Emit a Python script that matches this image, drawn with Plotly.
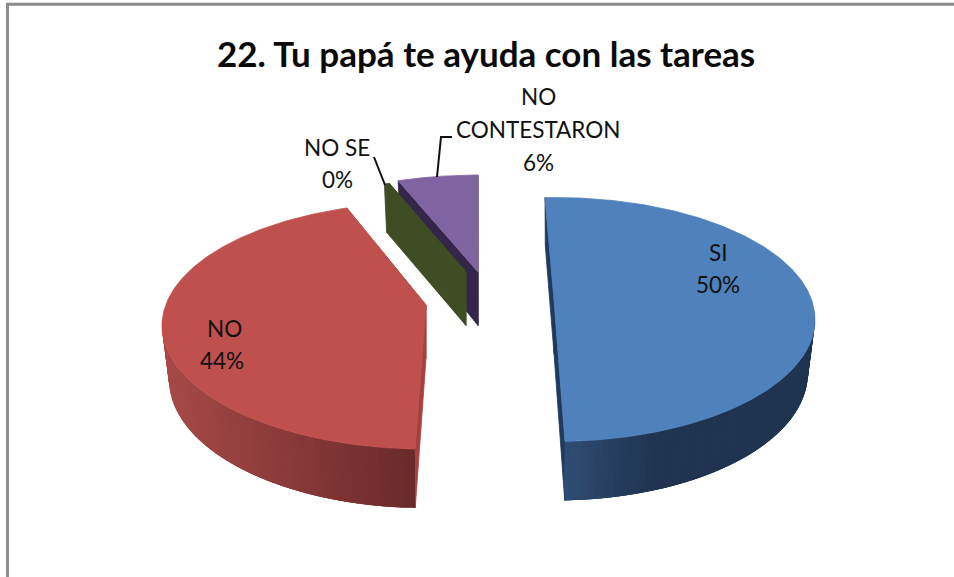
import math
import plotly.graph_objects as go

# ---- data ----
categories = ["SI", "NO", "NO SE", "NO CONTESTARON"]
values = [50, 44, 0.3, 5.7]
pct_labels = ["50%", "44%", "0%", "6%"]
title_text = "22. Tu papá te ayuda con las tareas"

# ---- per-slice view geometry (exploded 3D pie seen in perspective) ----
CENTRE_X = [555, 426, 466, 478]
CENTRE_Y = [319.5, 325.7, 301, 298]
APEX_X = [554, 426, 466, 478]
APEX_Y = [300, 305, 272, 272]
RX = [260, 264, 264, 264]
RY = [122, 123.4, 123, 123]
START_DEG = [92.2, -92.4, 108.0, 107.6]
SPAN_SCALE = [1.0, 1.011, 1.0, 0.857]
TOP_COL = ["#4f81bd", "#c0504d", "#404c23", "#8064a2"]
CUT_COL = ["#1f3a5c", "#a5423f", "#404c23", "#33264a"]
# rim shade stops: (x fraction along the visible rim, colour)
RIM_STOPS = [
    [(0.0, (47, 77, 116)), (0.38, (31, 52, 80)), (1.0, (31, 52, 80))],
    [(0.0, (107, 42, 42)), (1.0, (166, 74, 71))],
    [(0.0, (64, 76, 35)), (1.0, (64, 76, 35))],
    [(0.0, (51, 38, 74)), (1.0, (51, 38, 74))],
]
RIM_NARROW = 7
DEPTH_MID, DEPTH_PERSP = 53.5, 5.5


def top_pt(i, t):
    return (CENTRE_X[i] + RX[i] * math.cos(t), CENTRE_Y[i] - RY[i] * math.sin(t))


def bottom_pt(i, t):
    d = DEPTH_MID - DEPTH_PERSP * math.sin(t)
    return (CENTRE_X[i] + (RX[i] - RIM_NARROW) * math.cos(t), CENTRE_Y[i] - RY[i] * math.sin(t) + d)


def poly(pts, colour, lw=0.8):
    xs = [p[0] for p in pts] + [pts[0][0]]
    ys = [p[1] for p in pts] + [pts[0][1]]
    return go.Scatter(x=xs, y=ys, mode="lines", fill="toself", fillcolor=colour,
                      line=dict(color=colour, width=lw), hoverinfo="skip", showlegend=False)


def shade(stops, f):
    for (f0, c0), (f1, c1) in zip(stops, stops[1:]):
        if f <= f1:
            u = (f - f0) / (f1 - f0)
            return "rgb(%d,%d,%d)" % tuple(round(a + (b - a) * u) for a, b in zip(c0, c1))
    return "rgb(%d,%d,%d)" % stops[-1][1]


total = sum(values)
fig = go.Figure()

for i in [3, 2, 1, 0]:
    t0 = START_DEG[i]
    t1 = t0 - values[i] / total * 360 * SPAN_SCALE[i]
    n = 240
    ts = [math.radians(t0 + (t1 - t0) * k / n) for k in range(n + 1)]
    apex = (APEX_X[i], APEX_Y[i])
    apex_b = (APEX_X[i], APEX_Y[i] + DEPTH_MID)
    # cut faces
    for t in (ts[0], ts[-1]):
        fig.add_trace(poly([top_pt(i, t), apex, apex_b, bottom_pt(i, t)], CUT_COL[i]))
    # curved rim: a base shape, then strips overlapping the next one so no seams show
    front = [t for t in ts if math.sin(t) < 0.06]
    if len(front) > 1:
        xs = [top_pt(i, t)[0] for t in front]
        x_lo, x_hi = min(xs), max(xs)
        step = 2
        order = list(range(0, len(front) - 1, step))
        for a in order:
            seg = front[a:a + step + 5]
            xm = top_pt(i, front[a])[0]
            f = (xm - x_lo) / (x_hi - x_lo) if x_hi > x_lo else 0
            if i == 1:
                f = (x_hi - xm) / (x_hi - x_lo)
            pts = [top_pt(i, t) for t in seg] + [bottom_pt(i, t) for t in reversed(seg)]
            fig.add_trace(poly(pts, shade(RIM_STOPS[i], f), lw=0))
    # top surface
    fig.add_trace(poly([apex] + [top_pt(i, t) for t in ts], TOP_COL[i]))

# leader lines
LEADER_NO_SE = ([374, 385], [157, 185])
LEADER_NC = ([452, 441, 437], [137, 137, 177])
for lx, ly in (LEADER_NO_SE, LEADER_NC):
    fig.add_trace(go.Scatter(x=lx, y=ly, mode="lines", line=dict(color="#111111", width=2),
                             hoverinfo="skip", showlegend=False))

# text
FONT = "Lato, Open Sans, sans-serif"
LABEL_POS = {
    0: [(718, 252), (718, 284)],
    1: [(224, 328), (222, 360)],
    2: [(337, 147), (337, 179)],
    3: [(538, 96), (538, 129), (538, 162)],
}
LINES = {
    0: [categories[0], pct_labels[0]],
    1: [categories[1], pct_labels[1]],
    2: [categories[2], pct_labels[2]],
    3: ["NO", "CONTESTARON", pct_labels[3]],
}
ann = []
for i, pos in LABEL_POS.items():
    for (x, y), txt in zip(pos, LINES[i]):
        ann.append(dict(x=x, y=y, xref="x", yref="y", text=txt, showarrow=False,
                        font=dict(family=FONT, size=22.5, color="#111111"),
                        xanchor="center", yanchor="middle"))
ann.append(dict(x=486, y=53, xref="x", yref="y", text="<b>" + title_text + "</b>", showarrow=False,
                font=dict(family=FONT, size=35, color="#0a0a0a"), xanchor="center", yanchor="middle"))

fig.update_layout(
    width=954, height=577, margin=dict(l=0, r=0, t=0, b=0),
    paper_bgcolor="white", plot_bgcolor="white", showlegend=False,
    xaxis=dict(range=[0, 954], visible=False, fixedrange=True),
    yaxis=dict(range=[577, 0], visible=False, fixedrange=True),
    annotations=ann,
    shapes=[dict(type="line", xref="x", yref="y", x0=7.5, x1=7.5, y0=4, y1=577, line=dict(color="#8f8f8f", width=3)),
            dict(type="line", xref="x", yref="y", x0=6, x1=954, y0=4.3, y1=4.3, line=dict(color="#8a8a8a", width=3))],
)

fig.write_html("out.html", config=dict(displayModeBar=False),
               post_script="document.body.style.margin='0';document.body.style.overflow='hidden';")
